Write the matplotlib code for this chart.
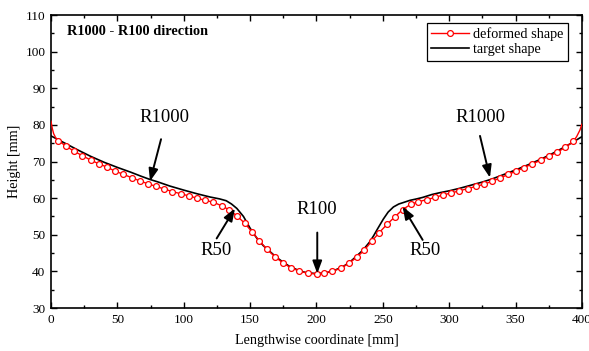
import matplotlib
matplotlib.use("Agg")
import matplotlib.pyplot as plt
from matplotlib.ticker import MultipleLocator
import numpy as np

# ---- data ----
# target shape (black)
target_x = [0, 10, 20, 30, 40, 50, 60, 67.8, 74.6, 80, 89.6, 100, 110, 120, 127, 132, 136, 140,
            145, 150, 155, 160, 165, 170, 175, 180, 187.6, 193, 200,
            207, 212.4, 220, 225, 230.3, 235, 240, 243, 246, 250.4, 254, 258, 262, 265.4,
            270.4, 275.5, 280, 287, 293, 300, 308, 318, 325, 332, 340, 350, 360, 370, 380, 390, 400]
target_y = [77.0, 75.1, 73.2, 71.4, 69.8, 68.4, 67.1, 66.0, 65.1, 64.5, 63.3, 62.2, 61.2, 60.3, 59.8, 59.3, 58.4, 57.2,
            55.0, 51.8, 49.1, 47.0, 45.4, 43.8, 42.5, 41.3, 40.1, 39.6, 39.4,
            39.6, 40.1, 41.3, 42.5, 44.2, 45.8, 48.0, 49.7, 51.6, 54.3, 56.2, 57.6, 58.4, 58.8,
            59.4, 59.8, 60.2, 61.0, 61.5, 62.0, 62.7, 63.7, 64.4, 65.2, 66.3, 67.7, 69.2, 70.8, 72.6, 74.6, 76.8]

# deformed shape (red): end segments + marker nodes
deformed_x = [0, 1, 2, 3.5,
              5.5, 11.3, 17.5, 23.6, 29.9, 35.9, 42.0, 48.2, 54.5, 60.8, 67.0, 73.3, 79.3, 85.2,
              91.5, 97.7, 104.0, 110.0, 116.2, 122.3, 128.6, 134.3, 139.9, 146.1, 151.6, 156.9,
              162.5, 168.8, 175.0, 180.8, 187.0, 193.3, 200.1, 205.9, 211.9, 218.2, 224.2, 230.3,
              236.0, 241.8, 247.3, 253.3, 259.1, 264.9, 271.0, 276.7, 283.0, 289.4, 295.6, 301.4,
              307.6, 313.8, 320.0, 326.0, 332.1, 338.4, 344.4, 350.1, 356.3, 362.6, 368.9, 375.1,
              381.4, 387.4, 393.5,
              396.0, 398.5, 400]
deformed_y = [81.0, 79.0, 77.6, 76.5,
              75.7, 74.2, 72.8, 71.6, 70.4, 69.4, 68.5, 67.4, 66.5, 65.6, 64.7, 63.9, 63.2, 62.5,
              61.8, 61.2, 60.6, 60.0, 59.4, 58.9, 57.9, 56.8, 55.2, 53.1, 50.7, 48.4,
              46.1, 44.0, 42.2, 41.0, 40.1, 39.5, 39.3, 39.5, 40.1, 40.8, 42.2, 43.8,
              45.8, 48.3, 50.6, 52.9, 54.9, 56.9, 58.3, 59.0, 59.6, 60.2, 60.9, 61.4,
              62.0, 62.6, 63.2, 63.8, 64.6, 65.5, 66.5, 67.3, 68.3, 69.4, 70.3, 71.5,
              72.5, 73.9, 75.5,
              76.8, 78.6, 80.2]
n_lead, n_tail = 4, 3

annot_labels = ["R1000", "R1000", "R50", "R50", "R100"]
annot_text_xy = [(85.1, 81.9), (323.2, 81.9), (124.3, 45.7), (281.7, 45.7), (200.4, 56.8)]
annot_start_xy = [(82.9, 76.1), (323.2, 77.0), (124.8, 49.0), (280.0, 48.6), (200.6, 50.6)]
annot_tip_xy = [(74.6, 64.6), (330.7, 65.6), (138.6, 57.2), (264.9, 57.7), (200.6, 39.4)]

title_text = "R1000 - R100 direction"
xlabel = "Lengthwise coordinate [mm]"
ylabel = "Height [mm]"

# ---- plot ----
plt.rcParams['font.family'] = ['Liberation Serif', 'DejaVu Serif']
plt.rcParams['mathtext.fontset'] = 'stix'

fig = plt.figure(figsize=(5.89, 3.51), dpi=100)
ax = fig.add_axes([0.0866, 0.1225, 0.9014, 0.8345])

mask = [False] * n_lead + [True] * (len(deformed_x) - n_lead - n_tail) + [False] * n_tail
ax.plot(deformed_x, deformed_y, color='red', lw=1.0, marker='o', markersize=4.2,
        markerfacecolor='white', markeredgecolor='red', markeredgewidth=0.9,
        markevery=mask, label='deformed shape', zorder=3)
ax.plot(target_x, target_y, color='black', lw=1.2, label='target shape', zorder=2)

ax.set_xlim(0, 400)
ax.set_ylim(30, 110)
ax.xaxis.set_major_locator(MultipleLocator(50))
ax.xaxis.set_minor_locator(MultipleLocator(25))
ax.yaxis.set_major_locator(MultipleLocator(10))
ax.yaxis.set_minor_locator(MultipleLocator(5))
ax.tick_params(which='both', direction='in', top=True, right=True, labelsize=9.5, pad=4)
ax.tick_params(which='major', length=4, width=1.0)
ax.tick_params(which='minor', length=2.5, width=1.0)
for s in ax.spines.values():
    s.set_linewidth(1.2)

ax.set_xlabel(xlabel, fontsize=10.2, labelpad=6)
ax.set_ylabel(ylabel, fontsize=10.2, labelpad=3)

ax.text(11.8, 105.5, title_text, fontsize=10.3, fontweight='bold', va='center', ha='left')

for lab, txy, sxy, exy in zip(annot_labels, annot_text_xy, annot_start_xy, annot_tip_xy):
    ax.text(txy[0], txy[1], lab, fontsize=13.5, ha='center', va='center')
    ax.annotate('', xy=exy, xytext=sxy,
                arrowprops=dict(arrowstyle='-|>,head_length=0.75,head_width=0.28',
                                color='black', lw=1.4, shrinkA=0, shrinkB=0))

leg = ax.legend(loc='upper right', bbox_to_anchor=(0.973, 0.973), fontsize=10.3, frameon=True,
                fancybox=False, edgecolor='black', framealpha=1, handlelength=2.6,
                handletextpad=0.3, borderpad=0.3, labelspacing=0.15, borderaxespad=0)
leg.get_frame().set_linewidth(0.9)

fig.savefig('out.png', dpi=100)
